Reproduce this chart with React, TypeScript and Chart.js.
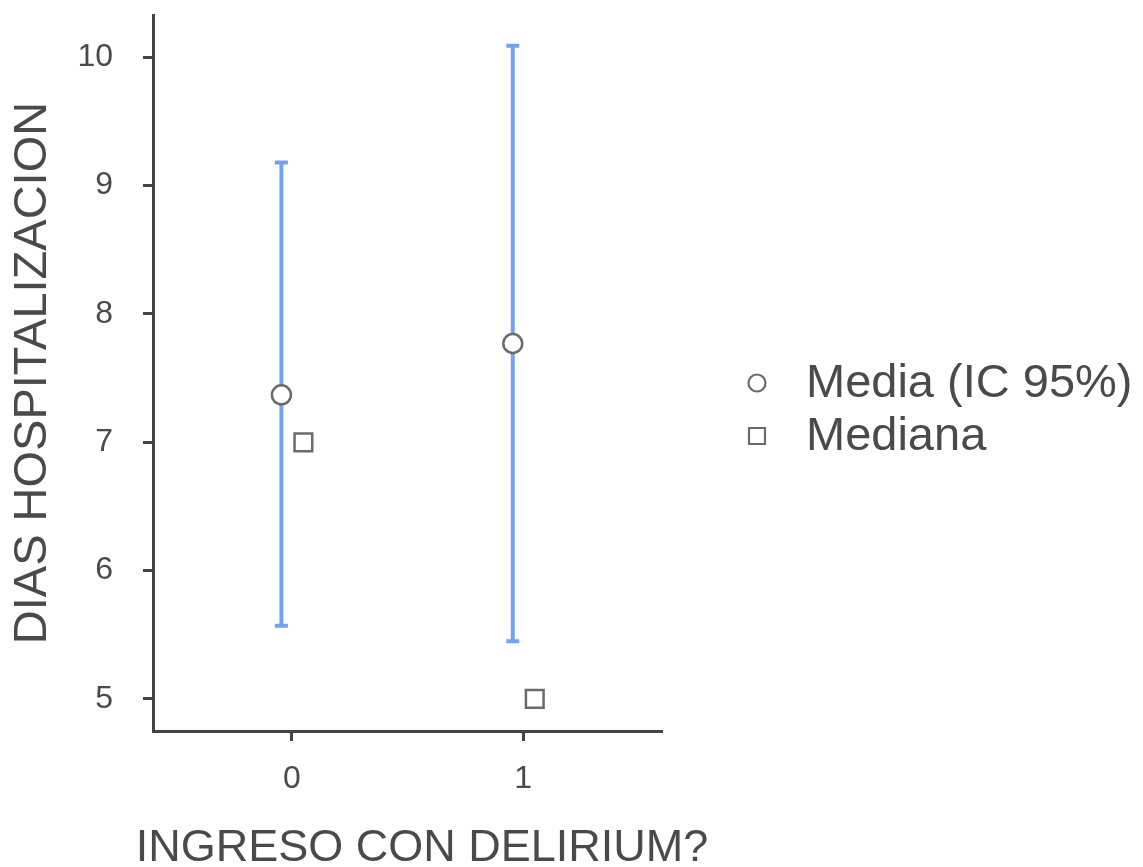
import React, { useEffect, useRef } from "react";
import { Chart, registerables } from "chart.js";

Chart.register(...registerables);

const categories = ["0", "1"];
const meanValues = [7.37, 7.77];
const ciLower = [5.57, 5.45];
const ciUpper = [9.18, 10.09];
const medianValues = [7.0, 5.0];
const yTickValues = [5, 6, 7, 8, 9, 10];
const legendLabels = ["Media (IC 95%)", "Mediana"];
const xTitle = "INGRESO CON DELIRIUM?";
const yTitle = "DIAS HOSPITALIZACION";

const MEAN_DODGE = -0.045;
const MEDIAN_DODGE = 0.05;
const FONT = "'Liberation Sans', Arial, sans-serif";
const BLUE = "#74a3ee";
const MARK = "#6a6a6a";
const AXIS = "#444444";
const TEXT = "#4a4a4a";

const errorBarPlugin = {
  id: "errorBars",
  beforeDatasetsDraw(chart: any) {
    const { ctx, scales } = chart;
    const xs = scales.x;
    const ys = scales.y;
    ctx.save();
    ctx.strokeStyle = BLUE;
    ctx.lineWidth = 4;
    ctx.lineCap = "butt";
    categories.forEach((_, i) => {
      const px = xs.getPixelForValue(i + MEAN_DODGE);
      const lo = ys.getPixelForValue(ciLower[i]);
      const hi = ys.getPixelForValue(ciUpper[i]);
      ctx.beginPath();
      ctx.moveTo(px, lo);
      ctx.lineTo(px, hi);
      ctx.stroke();
      ctx.beginPath();
      ctx.moveTo(px - 6.5, lo);
      ctx.lineTo(px + 6.5, lo);
      ctx.moveTo(px - 6.5, hi);
      ctx.lineTo(px + 6.5, hi);
      ctx.stroke();
    });
    ctx.restore();
  },
  afterDraw(chart: any) {
    const { ctx } = chart;
    ctx.save();
    // x-axis title (drawn without the width clamp Chart.js applies)
    ctx.fillStyle = TEXT;
    ctx.font = `45px ${FONT}`;
    ctx.textAlign = "center";
    ctx.textBaseline = "alphabetic";
    ctx.fillText(xTitle, 422, 861);

    // legend
    const symX = 757;
    const rows = [383, 436];
    ctx.strokeStyle = MARK;
    ctx.lineWidth = 2.2;
    ctx.fillStyle = "#ffffff";
    ctx.beginPath();
    ctx.arc(symX, rows[0], 8.5, 0, Math.PI * 2);
    ctx.fill();
    ctx.stroke();
    ctx.beginPath();
    ctx.rect(symX - 8, rows[1] - 8, 16, 16);
    ctx.fill();
    ctx.stroke();
    ctx.fillStyle = TEXT;
    ctx.font = `47px ${FONT}`;
    ctx.textBaseline = "middle";
    ctx.textAlign = "left";
    legendLabels.forEach((t, i) => {
      ctx.fillText(t, 806, rows[i] + 1);
    });
    ctx.restore();
  },
};

export default function App() {
  const ref = useRef<HTMLCanvasElement | null>(null);

  useEffect(() => {
    if (!ref.current) return;
    const chart = new Chart(ref.current, {
      type: "scatter",
      data: {
        datasets: [
          {
            label: legendLabels[0],
            data: categories.map((_, i) => ({ x: i + MEAN_DODGE, y: meanValues[i] })),
            pointStyle: "circle",
            pointRadius: 9.5,
            pointBorderWidth: 2.5,
            pointBackgroundColor: "#ffffff",
            pointBorderColor: MARK,
            showLine: false,
          },
          {
            label: legendLabels[1],
            data: categories.map((_, i) => ({ x: i + MEDIAN_DODGE, y: medianValues[i] })),
            pointStyle: "rect",
            pointRadius: 12.5,
            pointBorderWidth: 2.5,
            pointBackgroundColor: "#ffffff",
            pointBorderColor: MARK,
            showLine: false,
          },
        ],
      },
      options: {
        animation: false,
        responsive: false,
        layout: { padding: { left: 0, right: 481, top: 15, bottom: 0 } },
        plugins: {
          legend: { display: false },
          tooltip: { enabled: false },
          title: { display: false },
        },
        scales: {
          x: {
            type: "linear",
            min: -0.6,
            max: 1.6,
            afterBuildTicks: (s: any) => {
              s.ticks = categories.map((_, i) => ({ value: i }));
            },
            afterFit: (s: any) => {
              s.height = 136;
              s.paddingLeft = 0;
              s.paddingRight = 0;
            },
            ticks: {
              callback: (v: any) => categories[Math.round(Number(v))] ?? "",
              color: TEXT,
              font: { family: FONT, size: 32 },
              padding: 19,
              autoSkip: false,
              maxRotation: 0,
            },
            grid: {
              drawOnChartArea: false,
              drawTicks: true,
              tickLength: 10,
              tickWidth: 3,
              tickColor: AXIS,
            },
            border: { display: true, color: AXIS, width: 3 },
            title: { display: false, text: xTitle },
          },
          y: {
            type: "linear",
            min: 4.75,
            max: 10.33,
            afterBuildTicks: (s: any) => {
              s.ticks = yTickValues.map((v) => ({ value: v }));
            },
            afterFit: (s: any) => {
              s.width = 153;
              s.paddingTop = 0;
              s.paddingBottom = 0;
            },
            ticks: {
              color: TEXT,
              font: { family: FONT, size: 32 },
              padding: 30,
            },
            grid: {
              drawOnChartArea: false,
              drawTicks: true,
              tickLength: 10,
              tickWidth: 3,
              tickColor: AXIS,
            },
            border: { display: true, color: AXIS, width: 3 },
            title: {
              display: true,
              text: yTitle,
              color: TEXT,
              font: { family: FONT, size: 47, lineHeight: 1 },
              padding: { top: 10, bottom: 0 },
            },
          },
        },
      },
      plugins: [errorBarPlugin],
    });
    return () => chart.destroy();
  }, []);

  return (
    <div style={{ position: "fixed", left: 0, top: 0, width: 1143, height: 867, background: "#ffffff" }}>
      <canvas ref={ref} width={1143} height={867} style={{ display: "block" }} />
    </div>
  );
}
